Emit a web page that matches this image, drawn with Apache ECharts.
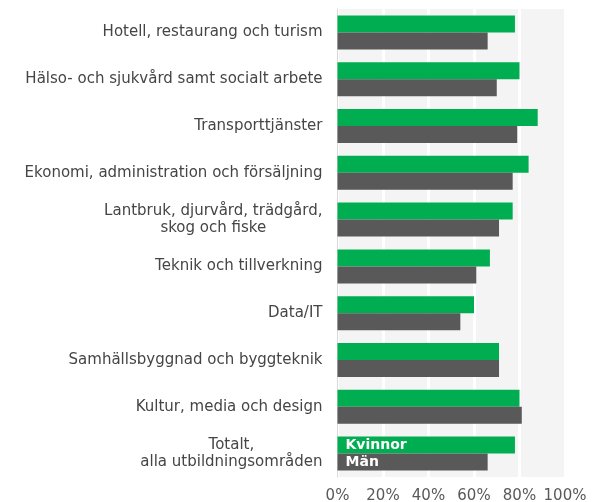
<!DOCTYPE html>
<html>
<head>
<meta charset="utf-8">
<script src="https://cdn.jsdelivr.net/npm/echarts@6/dist/echarts.min.js"></script>
<style>
  html, body { margin: 0; padding: 0; background: #fff; }
  #chart { width: 596px; height: 502px; }
</style>
</head>
<body>
<div id="chart"></div>
<script>
var categories = [
    'Hotell, restaurang och turism',
    'Hälso- och sjukvård samt socialt arbete',
    'Transporttjänster',
    'Ekonomi, administration och försäljning',
    'Lantbruk, djurvård, trädgård,\nskog och fiske',
    'Teknik och tillverkning',
    'Data/IT',
    'Samhällsbyggnad och byggteknik',
    'Kultur, media och design',
    'Totalt,\nalla utbildningsområden'
];
var kvinnor = [78, 80, 88, 84, 77, 67, 60, 71, 80, 78];
var man = [66, 70, 79, 77, 71, 61, 54, 71, 81, 66];
var xTicks = [0, 20, 40, 60, 80, 100];

var lastIdx = categories.length - 1;

// etikett inne i sista stapeln
function withLabel(arr, text) {
    return arr.map(function(v, i) {
        if (i !== lastIdx) return v;
        return {
            value: v,
            label: {
                show: true,
                position: 'insideLeft',
                distance: 8,
                formatter: text,
                color: '#fff',
                fontWeight: 'bold',
                fontSize: 14,
                fontFamily: 'DejaVu Sans'
            }
        };
    });
}

var chart = echarts.init(document.getElementById('chart'));
var option = {
    animation: false,
    grid: {
        left: 337.5,
        right: 31,
        top: 9,
        bottom: 25,
        outerBoundsMode: 'none',
        show: true,
        backgroundColor: '#f4f4f4',
        borderWidth: 0
    },
    xAxis: {
        type: 'value',
        min: xTicks[0],
        max: xTicks[xTicks.length - 1],
        interval: 20,
        axisLine: { show: false },
        axisTick: { show: false },
        splitLine: { show: true, lineStyle: { color: '#ffffff', width: 3 } },
        axisLabel: {
            formatter: '{value}%',
            color: '#595959',
            fontSize: 15,
            fontFamily: 'DejaVu Sans',
            margin: 12
        }
    },
    yAxis: {
        type: 'category',
        inverse: true,
        data: categories,
        axisLine: { show: true, lineStyle: { color: '#d9d9d9', width: 1 } },
        axisTick: { show: false },
        axisLabel: {
            margin: 15,
            color: '#454545',
            fontSize: 15,
            fontFamily: 'DejaVu Sans',
            lineHeight: 17,
            formatter: function(v) {
                return v.split('\n').map(function(l) { return '{c|' + l + '}'; }).join('\n');
            },
            rich: {
                c: { align: 'center', fontSize: 15, lineHeight: 17, color: '#454545', fontFamily: 'DejaVu Sans' }
            }
        }
    },
    series: [{
            name: 'Kvinnor',
            type: 'bar',
            barWidth: 17,
            barGap: '0%',
            itemStyle: { color: '#00ad50' },
            data: withLabel(kvinnor, 'Kvinnor')
        },
        {
            name: 'Män',
            type: 'bar',
            barWidth: 17,
            barGap: '0%',
            itemStyle: { color: '#595959' },
            data: withLabel(man, 'Män')
        }
    ]
};
chart.setOption(option);
</script>
</body>
</html>
